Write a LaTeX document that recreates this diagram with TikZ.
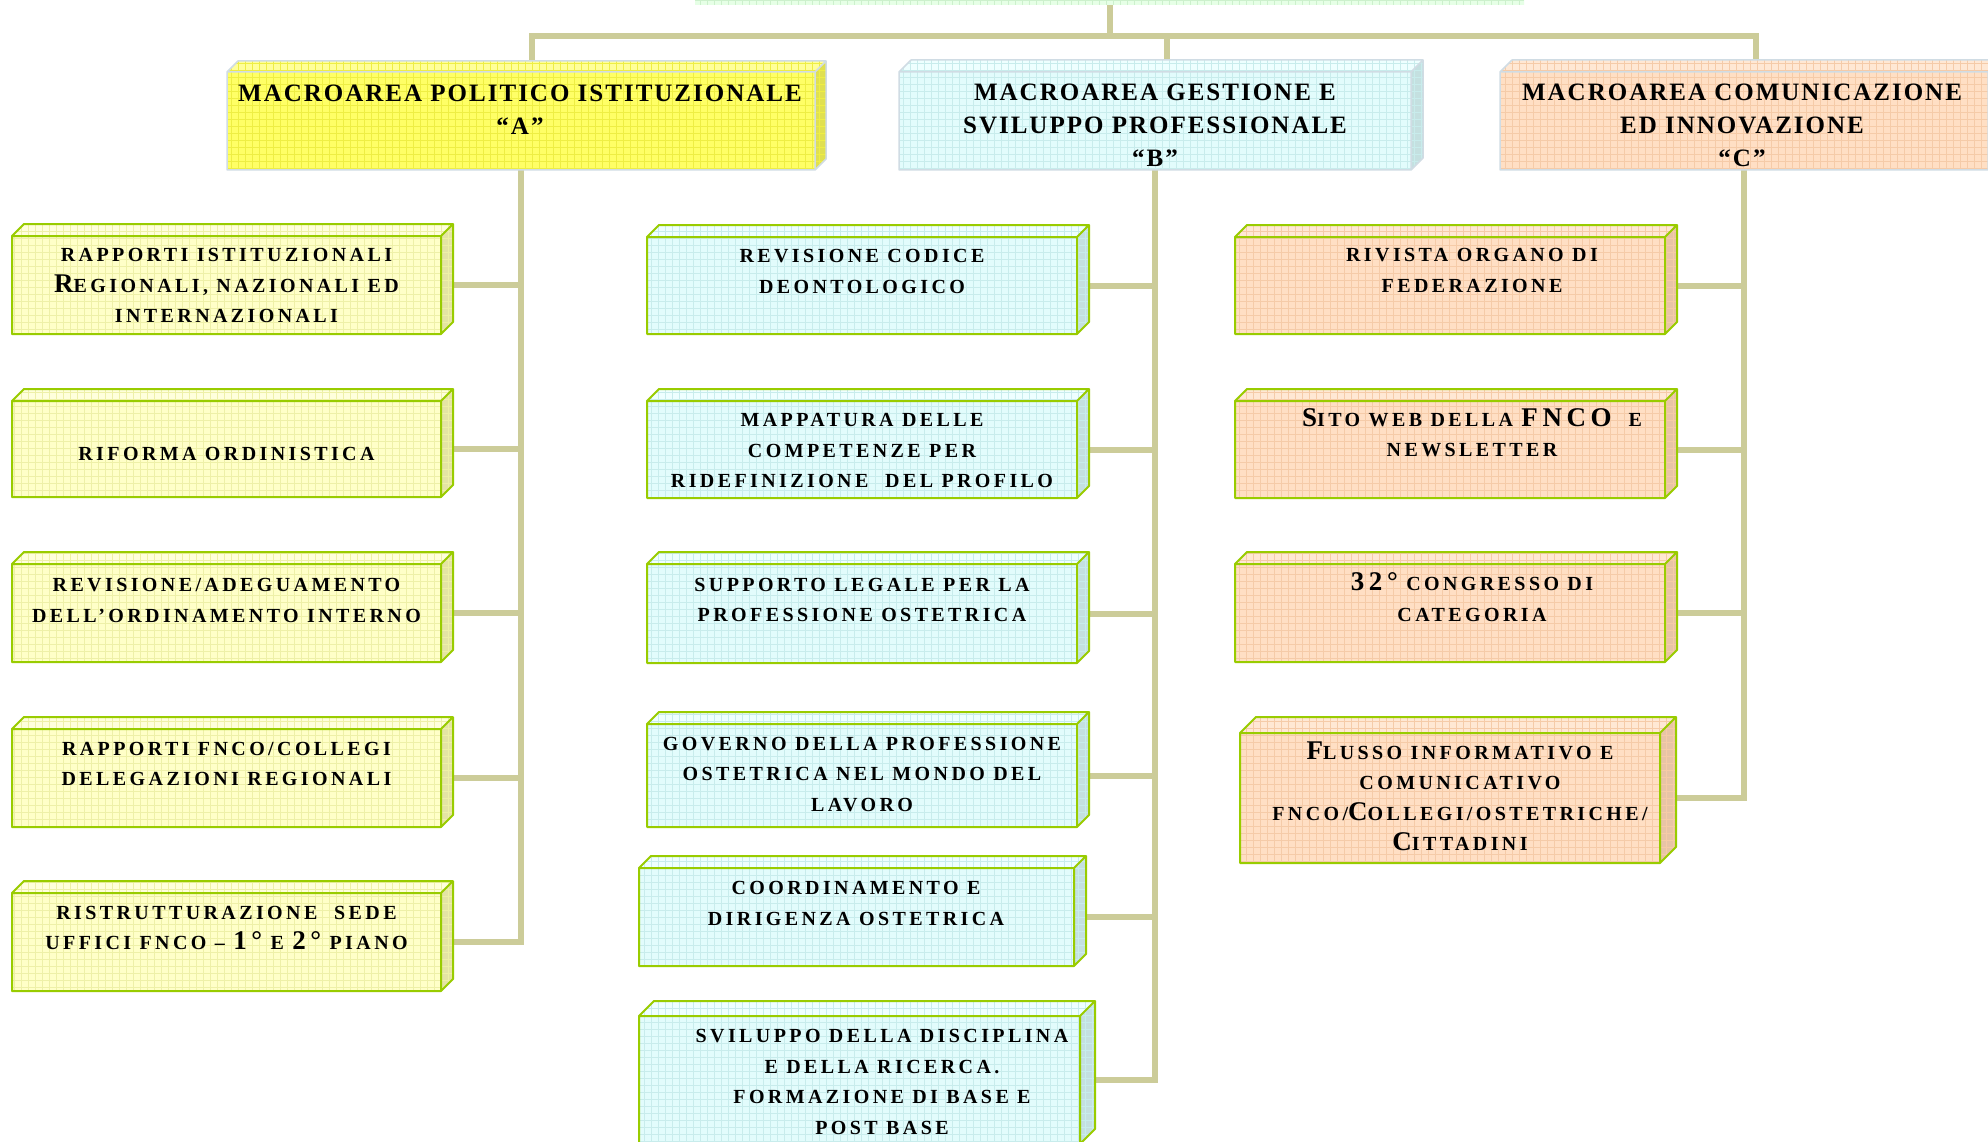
\documentclass[tikz,border=0pt]{standalone}
\usepackage{fontspec}
\setmainfont{Liberation Serif}
\pgfdeclarelayer{bg}
\pgfsetlayers{bg,main}
\definecolor{conn}{HTML}{CCCC99}
\definecolor{kgreen}{HTML}{99CC00}
\definecolor{mgrey}{HTML}{D0DCE4}
\definecolor{Mafront}{HTML}{FFFF66}\definecolor{Matop}{HTML}{FFFF99}\definecolor{Maside}{HTML}{E0E050}\definecolor{Magrid}{HTML}{EEEE44}
\definecolor{afront}{HTML}{FFFFC8}\definecolor{atop}{HTML}{FFFFDC}\definecolor{aside}{HTML}{E4E4A4}\definecolor{agrid}{HTML}{EEF0A8}
\definecolor{bfront}{HTML}{E2FCFC}\definecolor{btop}{HTML}{EEFFFF}\definecolor{bside}{HTML}{C4E0E0}\definecolor{bgrid}{HTML}{C8ECEC}
\definecolor{cfront}{HTML}{FFDFC4}\definecolor{ctop}{HTML}{FFE8D4}\definecolor{cside}{HTML}{E8C4A6}\definecolor{cgrid}{HTML}{F5CBA8}
\definecolor{gfront}{HTML}{E6FFE6}\definecolor{gtop}{HTML}{E6FFE6}\definecolor{gside}{HTML}{E6FFE6}\definecolor{ggrid}{HTML}{CCF0CC}
\newcommand\kidfont{\bfseries\addfontfeature{LetterSpace=17}\fontsize{20}{30.5}\selectfont}
\newcommand\macfont{\bfseries\addfontfeature{LetterSpace=8}\fontsize{25}{33}\selectfont}
\newcommand\BC[1]{{\fontsize{27}{30.5}\selectfont #1}}
\newcommand\kstrut{\rule{0pt}{20pt}}
\newcommand\mstrut{\rule{0pt}{24pt}}
\tikzset{
  face/.style={inner sep=0pt, outer sep=0pt, anchor=north west, draw=none},
  kedge/.style={draw=kgreen, line width=2, line join=round},
  medge/.style={draw=mgrey, line width=1.5, line join=round},
  gedge/.style={draw=none},
  connline/.style={draw=conn, line width=6},
  ktext/.style={anchor=north, inner sep=0pt, align=center, font=\kidfont},
  mtext/.style={anchor=north, inner sep=0pt, align=center, font=\macfont}
}
% #1 name, #2 x1, #3 y1 (front top), #4 x2, #5 y2 (bottom), #6 depth, #7 colour family, #8 edge style
\newcommand\cube[8]{%
  \fill[#7top] (#2,#3) -- (#2+#6,#3-#6) -- (#4+#6,#3-#6) -- (#4,#3) -- cycle;
  \fill[#7side] (#4,#3) -- (#4+#6,#3-#6) -- (#4+#6,#5-#6) -- (#4,#5) -- cycle;
  \node[face, fill=#7front, minimum width=#4-#2, minimum height=#5-#3] (#1) at (#2,#3) {};
  \begin{scope}
    \clip (#2,#5) -- (#2,#3) -- (#2+#6,#3-#6) -- (#4+#6,#3-#6) -- (#4+#6,#5-#6) -- (#4,#5) -- cycle;
    \draw[#7grid, line width=0.5, step=7pt] (#2,#5) grid (#4+#6,#3-#6);
  \end{scope}
  \path[#8] (#2,#5) -- (#2,#3) -- (#2+#6,#3-#6) -- (#4+#6,#3-#6) -- (#4+#6,#5-#6) -- (#4,#5) -- cycle
            (#2,#3) -- (#4,#3) -- (#4+#6,#3-#6) (#4,#3) -- (#4,#5);
}
\begin{document}
\begin{tikzpicture}[x=1pt, y=-1pt]
\useasboundingbox (0,0) rectangle (1988,1142);
\begin{scope}
\clip (0,0) rectangle (1988,1142);
% top (partial) box
\cube{top}{695}{-40}{1524}{5}{0}{g}{gedge}
% macro areas
\cube{A}{227}{72}{815}{170}{11}{Ma}{medge}
\cube{B}{899}{72}{1411}{170}{12}{b}{medge}
\cube{C}{1500}{72}{1988}{170}{12}{c}{medge}
% column A
\cube{a1}{12}{236}{441}{334}{12}{a}{kedge}
\cube{a2}{12}{401}{441}{497}{12}{a}{kedge}
\cube{a3}{12}{564}{441}{662}{12}{a}{kedge}
\cube{a4}{12}{729}{441}{827}{12}{a}{kedge}
\cube{a5}{12}{893}{441}{991}{12}{a}{kedge}
% column B
\cube{b1}{647}{237}{1077}{334}{12}{b}{kedge}
\cube{b2}{647}{401}{1077}{498}{12}{b}{kedge}
\cube{b3}{647}{564}{1077}{663}{12}{b}{kedge}
\cube{b4}{647}{724}{1077}{827}{12}{b}{kedge}
\cube{b5}{639}{868}{1074}{966}{12}{b}{kedge}
\cube{b6}{639}{1016}{1080}{1144}{15}{b}{kedge}
% column C
\cube{c1}{1235}{237}{1665}{334}{12}{c}{kedge}
\cube{c2}{1235}{401}{1665}{498}{12}{c}{kedge}
\cube{c3}{1235}{564}{1665}{662}{12}{c}{kedge}
\cube{c4}{1240}{733}{1660}{863}{16}{c}{kedge}
\end{scope}
% texts
\node[mtext] (At) at (520,77.7) {\mstrut MACROAREA POLITICO ISTITUZIONALE\\“A”};
\node[mtext] (Bt) at (1155,76) {\mstrut MACROAREA GESTIONE E\\SVILUPPO PROFESSIONALE\\“B”};
\node[mtext] (Ct) at (1742,76) {\mstrut MACROAREA COMUNICAZIONE\\ED INNOVAZIONE\\“C”};
\node[ktext] (a1t) at (226.5,241.7) {\kstrut RAPPORTI ISTITUZIONALI\\\BC{R}EGIONALI, NAZIONALI ED\\INTERNAZIONALI};
\node[ktext] (a2t) at (226.5,440) {\kstrut RIFORMA ORDINISTICA};
\node[ktext] (a3t) at (226.5,571.7) {\kstrut REVISIONE/ADEGUAMENTO\\DELL’ORDINAMENTO INTERNO};
\node[ktext] (a4t) at (226.5,735) {\kstrut RAPPORTI FNCO/COLLEGI\\DELEGAZIONI REGIONALI};
\node[ktext] (a5t) at (226.5,899) {\kstrut RISTRUTTURAZIONE\ \ SEDE\\UFFICI FNCO – \BC{1°} E \BC{2°} PIANO};
\node[ktext] (b1t) at (862,242.3) {\kstrut REVISIONE CODICE\\DEONTOLOGICO};
\node[ktext] (b2t) at (862,406.7) {\kstrut MAPPATURA DELLE\\COMPETENZE PER\\RIDEFINIZIONE\ \ DEL PROFILO};
\node[ktext] (b3t) at (862,571) {\kstrut SUPPORTO LEGALE PER LA\\PROFESSIONE OSTETRICA};
\node[ktext] (b4t) at (862,730) {\kstrut GOVERNO DELLA PROFESSIONE\\OSTETRICA NEL MONDO DEL\\LAVORO};
\node[ktext] (b5t) at (856,874.3) {\kstrut COORDINAMENTO E\\DIRIGENZA OSTETRICA};
\node[ktext] (b6t) at (882,1022.3) {\kstrut SVILUPPO DELLA DISCIPLINA\\E DELLA RICERCA.\\FORMAZIONE DI BASE E\\POST BASE};
\node[ktext] (c1t) at (1472,241.7) {\kstrut RIVISTA ORGANO DI\\FEDERAZIONE};
\node[ktext] (c2t) at (1472,406) {\kstrut \BC{S}ITO WEB DELLA \BC{FNCO}\ \ E\\NEWSLETTER};
\node[ktext] (c3t) at (1472,570.7) {\kstrut \BC{32°} CONGRESSO DI\\CATEGORIA};
\node[ktext] (c4t) at (1460,739) {\kstrut \BC{F}LUSSO INFORMATIVO E\\COMUNICATIVO\\FNCO/\BC{C}OLLEGI/OSTETRICHE/\\\BC{C}ITTADINI};
% connectors
\coordinate (bar) at (0,36);
\path ([xshift=11pt]A.north) coordinate (Atop);
\path ([xshift=12pt]B.north) coordinate (Btop);
\path ([xshift=12pt]C.north) coordinate (Ctop);
\begin{pgfonlayer}{bg}
\fill[white] (0,0) rectangle (1988,1142);
\draw[connline] (top.south) -- (top.south |- bar);
\draw[connline] (Atop) |- (Ctop |- bar) -- (Ctop);
\draw[connline] (Btop) -- (Btop |- bar);
\draw[connline] (A.south) |- (a5.east);
\foreach \k in {a1,a2,a3,a4} \draw[connline] (\k.east) -- (\k.east -| A.south);
\draw[connline] (B.south) |- (b6.east);
\foreach \k in {b1,b2,b3,b4,b5} \draw[connline] (\k.east) -- (\k.east -| B.south);
\draw[connline] (C.south) |- (c4.east);
\foreach \k in {c1,c2,c3} \draw[connline] (\k.east) -- (\k.east -| C.south);
\end{pgfonlayer}
\end{tikzpicture}
\end{document}
